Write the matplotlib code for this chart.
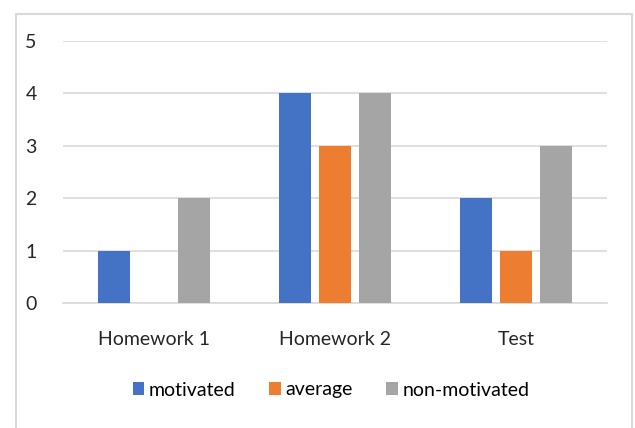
import numpy as np
import matplotlib.pyplot as plt
from matplotlib.patches import Rectangle

categories = ['Homework 1', 'Homework 2', 'Test']
motivated = [1, 4, 2]
average = [0, 3, 1]
non_motivated = [2, 4, 3]
series = [('motivated', motivated, '#4472C4'),
          ('average', average, '#ED7D31'),
          ('non-motivated', non_motivated, '#A5A5A5')]

plt.rcParams['font.family'] = ['Lato', 'DejaVu Sans']

fig = plt.figure(figsize=(6.35, 4.28), dpi=100)
ax = fig.add_axes([63 / 635, 1 - 303 / 428, 544 / 635, 262 / 428])

x = np.arange(len(categories))
w = 0.176
step = 0.221
for i, (name, vals, col) in enumerate(series):
    ax.bar(x + (i - 1) * step, vals, w, color=col, label=name, zorder=3)

ax.set_xlim(-0.5, 2.5)
ax.set_ylim(0, 5)
ax.set_yticks(range(6))
ax.set_xticks(x)
ax.set_xticklabels(categories)
ax.grid(axis='y', color='#D9D9D9', linewidth=1.2, zorder=0)
for s in ['top', 'right', 'left']:
    ax.spines[s].set_visible(False)
ax.spines['bottom'].set_color('#D9D9D9')
ax.spines['bottom'].set_linewidth(1.2)
ax.tick_params(length=0, labelsize=14, colors='#262626')
ax.tick_params(axis='y', pad=19)
ax.tick_params(axis='x', pad=20)

fig.legend(loc='center', bbox_to_anchor=(331 / 635, 1 - 390 / 428), ncol=3,
           frameon=False, fontsize=14, handlelength=0.6, handleheight=0.6,
           handletextpad=0.25, columnspacing=1.7)

fig.patches.append(Rectangle((16 / 635, -0.1), 616 / 635, 1.1 - 14 / 428,
                             transform=fig.transFigure, fill=False,
                             edgecolor='#D9D9D9', linewidth=1.5))

fig.savefig('out.png')
